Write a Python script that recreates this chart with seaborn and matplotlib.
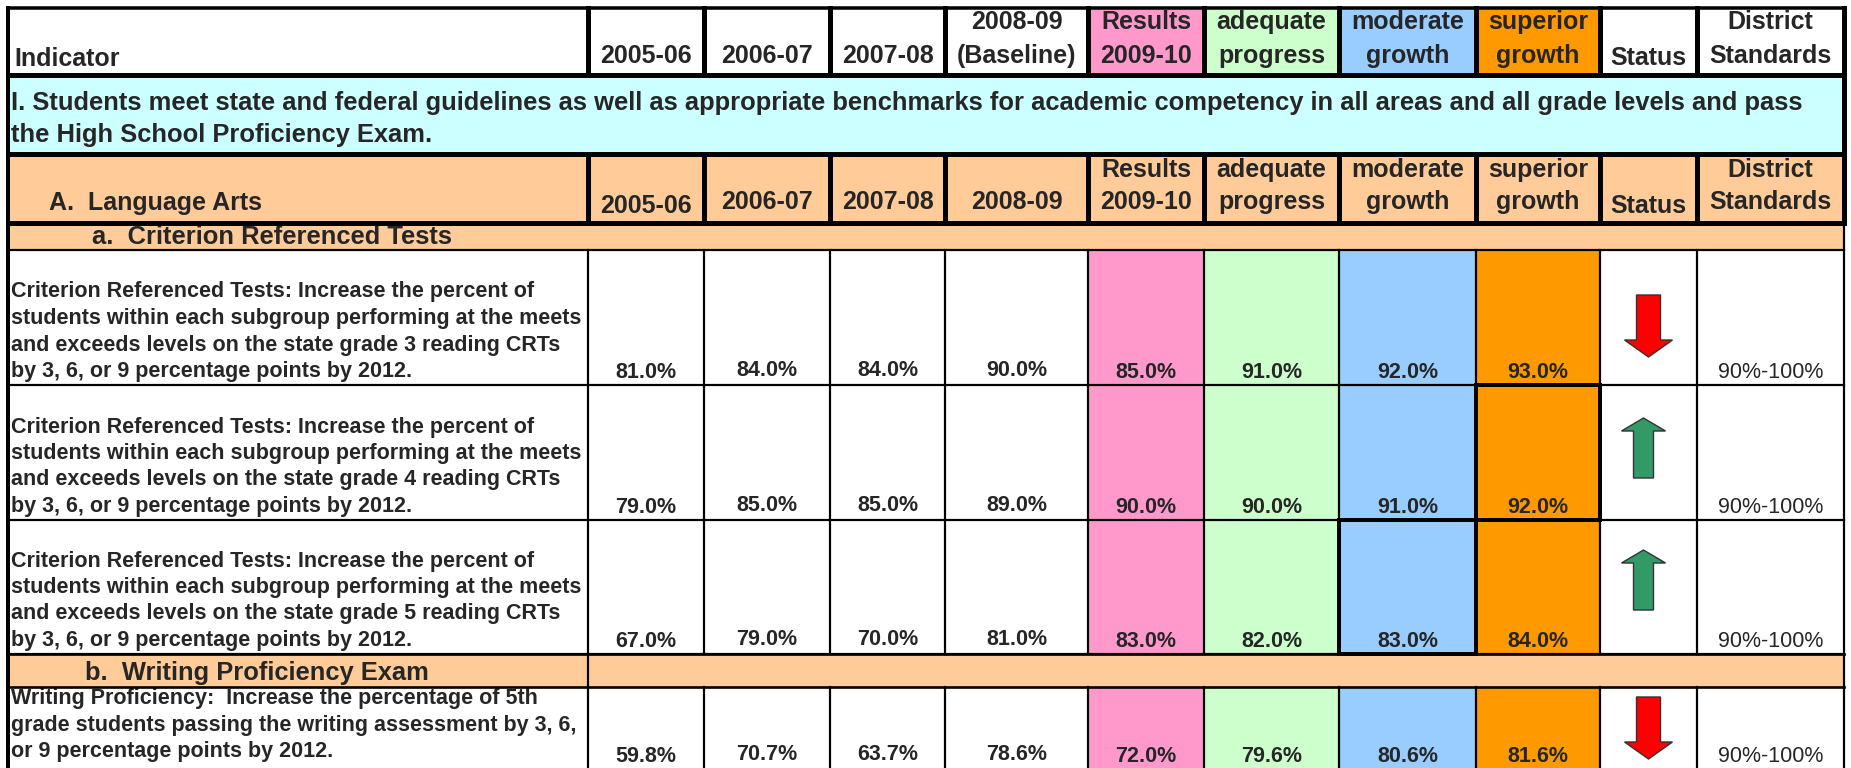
import matplotlib
matplotlib.use("Agg")
import matplotlib.pyplot as plt
from matplotlib.patches import Rectangle, Polygon
import seaborn as sns

# ------------------------------------------------------------------ data
header_top = ["Indicator", "2005-06", "2006-07", "2007-08", "2008-09\n(Baseline)",
              "Results\n2009-10", "adequate\nprogress", "moderate\ngrowth",
              "superior\ngrowth", "Status", "District\nStandards"]
header_sec = ["A.  Language Arts", "2005-06", "2006-07", "2007-08", "2008-09",
              "Results\n2009-10", "adequate\nprogress", "moderate\ngrowth",
              "superior\ngrowth", "Status", "District\nStandards"]
goal_lines = ["I. Students meet state and federal guidelines as well as appropriate benchmarks "
              "for academic competency in all areas and all grade levels and pass",
              "the High School Proficiency Exam."]
sub_a = "a.  Criterion Referenced Tests"
sub_b = "b.  Writing Proficiency Exam"

indicators = [
    "Criterion Referenced Tests: Increase the percent of\nstudents within each subgroup performing at the meets\n"
    "and exceeds levels on the state grade 3 reading CRTs\nby 3, 6, or 9 percentage points by 2012.",
    "Criterion Referenced Tests: Increase the percent of\nstudents within each subgroup performing at the meets\n"
    "and exceeds levels on the state grade 4 reading CRTs\nby 3, 6, or 9 percentage points by 2012.",
    "Criterion Referenced Tests: Increase the percent of\nstudents within each subgroup performing at the meets\n"
    "and exceeds levels on the state grade 5 reading CRTs\nby 3, 6, or 9 percentage points by 2012.",
    "Writing Proficiency:  Increase the percentage of 5th\ngrade students passing the writing assessment by 3, 6,\n"
    "or 9 percentage points by 2012.",
]
v_2005_06 = [81.0, 79.0, 67.0, 59.8]
v_2006_07 = [84.0, 85.0, 79.0, 70.7]
v_2007_08 = [84.0, 85.0, 70.0, 63.7]
v_2008_09 = [90.0, 89.0, 81.0, 78.6]
results_2009_10 = [85.0, 90.0, 83.0, 72.0]
adequate_progress = [91.0, 90.0, 82.0, 79.6]
moderate_growth = [92.0, 91.0, 83.0, 80.6]
superior_growth = [93.0, 92.0, 84.0, 81.6]
status = ["down", "up", "up", "down"]
district_standards = ["90%-100%", "90%-100%", "90%-100%", "90%-100%"]
highlight = [(1, 8), (2, 7)]          # (row, column) cells with a heavy frame

# ------------------------------------------------------------------ layout / style
W, H = 1851, 768
col_edges = [8, 588, 704, 830, 945, 1088, 1204, 1339, 1476, 1600, 1697, 1844]
hdr1 = (8, 75)
goal = (75, 154)
hdr2 = (154, 223)
suba = (223, 250)
rows = [(250, 385), (385, 520), (520, 654), (687, 780)]
subb = (654, 687)

WHITE = "#FFFFFF"
PINK = "#FF99CC"
LGREEN = "#CCFFCC"
LBLUE = "#99CCFF"
ORANGE = "#FF9900"
PEACH = "#FFCC99"
CYAN = "#CCFFFF"
col_fill = [WHITE, WHITE, WHITE, WHITE, WHITE, PINK, LGREEN, LBLUE, ORANGE, WHITE, WHITE]

PX = 0.72  # points per pixel at 100 dpi
THICK = 5 * PX
THIN = 2.2 * PX
HEAVY = 4 * PX

sns.set_theme(style="white")
plt.rcParams["font.family"] = ["Liberation Sans", "DejaVu Sans"]

fig = plt.figure(figsize=(W / 100, H / 100), dpi=100)
ax = fig.add_axes([0, 0, 1, 1])
ax.set_xlim(0, W)
ax.set_ylim(H, 0)
ax.axis("off")


def cell(x0, x1, y0, y1, color, z=1):
    ax.add_patch(Rectangle((x0, y0), x1 - x0, y1 - y0, facecolor=color, edgecolor="none", zorder=z))


def hline(y, x0, x1, lw):
    ax.plot([x0, x1], [y, y], color="black", lw=lw, solid_capstyle="projecting", zorder=5)


def vline(x, y0, y1, lw):
    ax.plot([x, x], [y0, y1], color="black", lw=lw, solid_capstyle="projecting", zorder=5)


HFS = 18.0   # header font size
GFS = 18.4   # goal / sub-header font size
DFS = 15.5   # description / values font size

# ---------------------------------------------------------------- header row 1
for j in range(len(header_top)):
    x0, x1 = col_edges[j], col_edges[j + 1]
    cell(x0, x1, *hdr1, col_fill[j])
    lines = header_top[j].split("\n")
    if j == 0:
        ax.text(x0 + 6, 66, lines[0], fontsize=HFS, fontweight="bold", va="baseline", ha="left", zorder=3)
        continue
    base = [63] if len(lines) == 1 else [29, 63]
    if header_top[j] == "Status":
        base = [65]
    for ln, b in zip(lines, base):
        ax.text((x0 + x1) / 2, b, ln, fontsize=HFS, fontweight="bold", va="baseline", ha="center", zorder=3)

# ---------------------------------------------------------------- goal row
cell(col_edges[0], col_edges[-1], *goal, CYAN)
for ln, b in zip(goal_lines, [110, 142]):
    ax.text(col_edges[0] + 3, b, ln, fontsize=GFS, fontweight="bold", va="baseline", ha="left", zorder=3)

# ---------------------------------------------------------------- header row 2
for j in range(len(header_sec)):
    x0, x1 = col_edges[j], col_edges[j + 1]
    cell(x0, x1, *hdr2, PEACH)
    lines = header_sec[j].split("\n")
    if j == 0:
        ax.text(x0 + 41, 210, lines[0], fontsize=HFS, fontweight="bold", va="baseline", ha="left", zorder=3)
        continue
    base = [209] if len(lines) == 1 else [177, 209]
    if j in (1, 9):
        base = [213]
    for ln, b in zip(lines, base):
        ax.text((x0 + x1) / 2, b, ln, fontsize=HFS, fontweight="bold", va="baseline", ha="center", zorder=3)

# ---------------------------------------------------------------- sub headers
cell(col_edges[0], col_edges[-1], *suba, PEACH)
ax.text(col_edges[0] + 84, 244, sub_a, fontsize=GFS, fontweight="bold", va="baseline", ha="left", zorder=3)
cell(col_edges[0], col_edges[-1], *subb, PEACH)
ax.text(col_edges[0] + 77, 680, sub_b, fontsize=GFS, fontweight="bold", va="baseline", ha="left", zorder=3)

# ---------------------------------------------------------------- data rows
value_cols = [v_2005_06, v_2006_07, v_2007_08, v_2008_09, results_2009_10,
              adequate_progress, moderate_growth, superior_growth]
val_offset = [7, 9, 9, 9, 7, 7, 7, 7]
LSP = 26.5
arrow_off = [45, 33, 30, 10]

for i, (y0, y1) in enumerate(rows):
    for j in range(len(col_edges) - 1):
        cell(col_edges[j], col_edges[j + 1], y0, y1, col_fill[j])
    lines = indicators[i].split("\n")
    if i < 3:
        first = y1 - 8 - LSP * (len(lines) - 1)   # bottom aligned
    else:
        first = y0 + 17                            # top aligned
    for k, ln in enumerate(lines):
        ax.text(col_edges[0] + 3, first + k * LSP, ln, fontsize=DFS, fontweight="bold",
                va="baseline", ha="left", zorder=3)
    for c, vals in enumerate(value_cols):
        x0, x1 = col_edges[c + 1], col_edges[c + 2]
        ax.text((x0 + x1) / 2, min(y1, 769) - val_offset[c], f"{vals[i]:.1f}%", fontsize=DFS,
                fontweight="bold", va="baseline", ha="center", zorder=3)
    # district standard
    x0, x1 = col_edges[10], col_edges[11]
    ax.text((x0 + x1) / 2, min(y1, 769) - 7, district_standards[i], fontsize=DFS,
            va="baseline", ha="center", zorder=3)
    # status arrow
    sx0, sx1 = col_edges[9], col_edges[10]
    top = y0 + arrow_off[i]
    if status[i] == "down":
        cx, sw, hw, L, hl, col = (sx0 + sx1) / 2, 12, 24, 62, 17, "#FF0000"
        pts = [(cx - sw, top), (cx + sw, top), (cx + sw, top + L - hl), (cx + hw, top + L - hl),
               (cx, top + L), (cx - hw, top + L - hl), (cx - sw, top + L - hl)]
    else:
        cx, sw, hw, L, hl, col = (sx0 + sx1) / 2 - 5, 10, 22, 60, 13, "#339966"
        pts = [(cx, top), (cx + hw, top + hl), (cx + sw, top + hl), (cx + sw, top + L),
               (cx - sw, top + L), (cx - sw, top + hl), (cx - hw, top + hl)]
    ax.add_patch(Polygon(pts, closed=True, facecolor=col, edgecolor="#333333", lw=1.0, zorder=4))

# ---------------------------------------------------------------- grid lines
L, R = col_edges[0], col_edges[-1]
# header 1
hline(hdr1[0], L, R, 3.5 * PX)
hline(hdr1[1], L, R, THICK)
for x in col_edges[1:-1]:
    vline(x, hdr1[0], hdr1[1], THICK)
# goal
hline(goal[1], L, R, THICK)
# header 2
for x in col_edges[1:-1]:
    vline(x, hdr2[0], hdr2[1], THICK)
hline(hdr2[1], L, R, THICK)
# sub a
hline(suba[1], L, R, THIN)
# data rows
for y0, y1 in rows:
    for x in col_edges[1:-1]:
        vline(x, y0, y1, THIN)
    hline(y1, L, R, THIN)
# sub b
hline(subb[0], L, R, THIN * 1.2)
hline(subb[1], L, R, THIN * 1.2)
vline(col_edges[1], subb[0], subb[1], THIN)
# outer borders
vline(L, hdr1[0], H + 5, 4 * PX)
vline(R, hdr1[0], hdr2[1], THICK)
vline(R, hdr2[1], H + 5, THIN)
# highlighted cells
for (r, c) in highlight:
    y0, y1 = rows[r]
    ax.add_patch(Rectangle((col_edges[c], y0), col_edges[c + 1] - col_edges[c], y1 - y0,
                           facecolor="none", edgecolor="black", lw=HEAVY, zorder=6))

fig.savefig("out.png", dpi=100, facecolor="white")
